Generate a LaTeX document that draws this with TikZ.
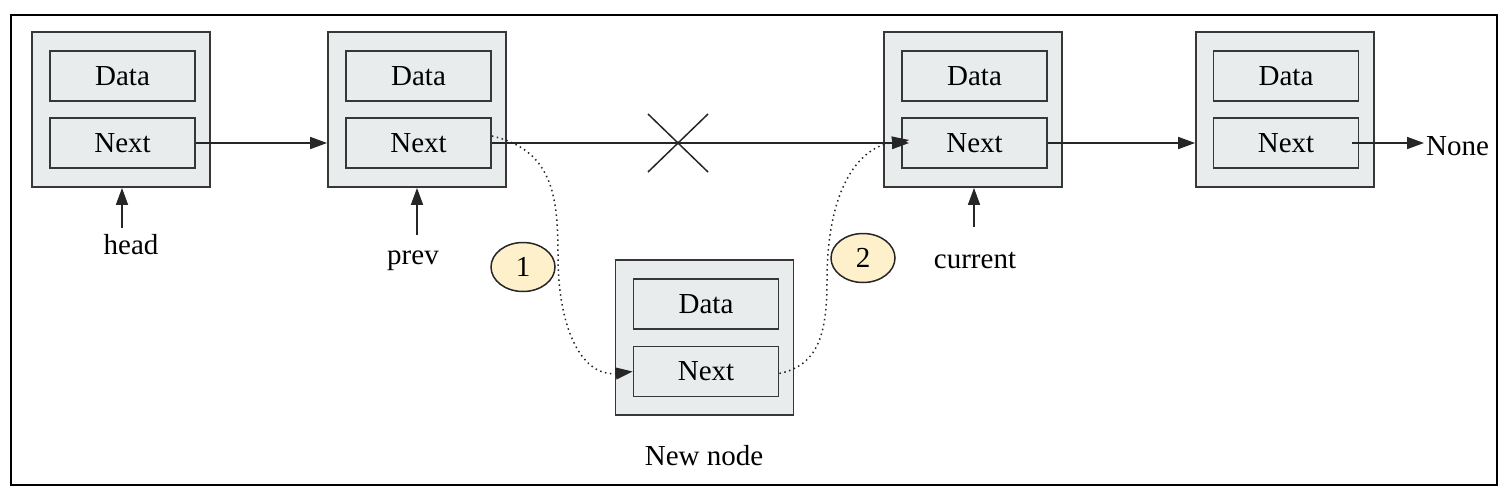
\documentclass[tikz,border=0pt]{standalone}
\usepackage{fontspec}
\setmainfont{Liberation Serif}
\newfontfamily\diagfont{Liberation Serif}
\usetikzlibrary{arrows.meta,shapes.geometric}
\definecolor{linec}{RGB}{55,55,55}
\definecolor{boxfill}{RGB}{233,236,237}
\definecolor{badge}{RGB}{253,240,202}
\tikzset{
  every node/.style={font=\diagfont\fontsize{29}{33}\selectfont},
  outerbox/.style={draw=linec, fill=boxfill, line width=1.8pt, minimum width=178pt, minimum height=155pt, inner sep=0pt},
  innerbox/.style={draw=linec, fill=boxfill, line width=1.8pt, minimum width=145pt, minimum height=50pt, inner sep=0pt},
  lbl/.style={inner sep=2pt},
  conn/.style={draw=black!85, line width=1.6pt, -{Triangle[length=17pt,width=12pt]}},
  dotconn/.style={draw=black!85, line width=1.5pt, dash pattern=on 1.5pt off 3.5pt, -{Triangle[length=17pt,width=12pt]}},
  badgestyle/.style={ellipse, draw=black!85, fill=badge, line width=1.5pt, minimum width=64pt, minimum height=49pt, inner sep=0pt},
  crossline/.style={draw=black!85, line width=1.5pt}
}
\begin{document}
\begin{tikzpicture}[x=1pt,y=-1pt]
\useasboundingbox (0,0) rectangle (1506,496);
\draw[line width=2.6pt] (11,15) rectangle (1497,485);

% list nodes
\node[outerbox] (n1) at (121,109.5) {};
\node[innerbox] (n1data) at (122.5,76) {Data};
\node[innerbox] (n1next) at (122.5,143) {Next};

\node[outerbox] (n2) at (417,109.5) {};
\node[innerbox] (n2data) at (418.5,76) {Data};
\node[innerbox] (n2next) at (418.5,143) {Next};

\node[outerbox] (n3) at (973,109.5) {};
\node[innerbox] (n3data) at (974.5,76) {Data};
\node[innerbox] (n3next) at (974.5,143) {Next};

\node[outerbox] (n4) at (1285,109.5) {};
\node[innerbox] (n4data) at (1286,76) {Data};
\node[innerbox] (n4next) at (1286,143) {Next};

\node[outerbox] (nn) at (704.5,337.5) {};
\node[innerbox] (nndata) at (706,304) {Data};
\node[innerbox] (nnnext) at (706,371.5) {Next};

% labels
\node[lbl] (head) at (131,245) {head};
\node[lbl] (prev) at (413,261) {prev};
\node[lbl] (current) at (975,260) {current};
\node[lbl] (newnode) at (704,456) {New node};
\node[lbl, anchor=west] (none) at (1424,146) {None};

% badges
\node[badgestyle] (b1) at (523,267) {1};
\node[badgestyle] (b2) at (863,258) {2};

% pointer arrows
\coordinate (headtail) at (122,228);
\coordinate (prevtail) at (417,235);
\coordinate (curtail) at (974,227);
\draw[conn] (headtail) -- (headtail |- n1.south);
\draw[conn] (prevtail) -- (prevtail |- n2.south);
\draw[conn] (curtail) -- (curtail |- n3.south);

% next links
\draw[conn] (n1next.east) -- (n1next.east -| n2.west);
\draw[conn] (n2next.east) -- ([xshift=8pt]n3next.west);
\draw[conn] (n3next.east) -- (n3next.east -| n4.west);
\draw[conn] ([xshift=-7pt]n4next.east) -- (none.west |- n4next.east);

% cross
\coordinate (xc) at (678,143);
\draw[crossline] ([shift={(-30,-29)}]xc) -- ([shift={(30,29)}]xc);
\draw[crossline] ([shift={(30,-29)}]xc) -- ([shift={(-30,29)}]xc);

% dotted insertion links
\coordinate (d1s) at ([yshift=7pt]n2next.east);
\draw[dotconn] (d1s) .. controls (552,150) and (558,195) .. (558,255)
  .. controls (558,335) and (585,377) .. (nnnext.west);
\coordinate (d2s) at ([yshift=-2pt]nnnext.east);
\coordinate (d2e) at ([xshift=8pt,yshift=3pt]n3next.west);
\draw[dotconn] (d2s) .. controls (818,365) and (827,335) .. (827,280)
  .. controls (827,195) and (855,148) .. (d2e);
\end{tikzpicture}
\end{document}
